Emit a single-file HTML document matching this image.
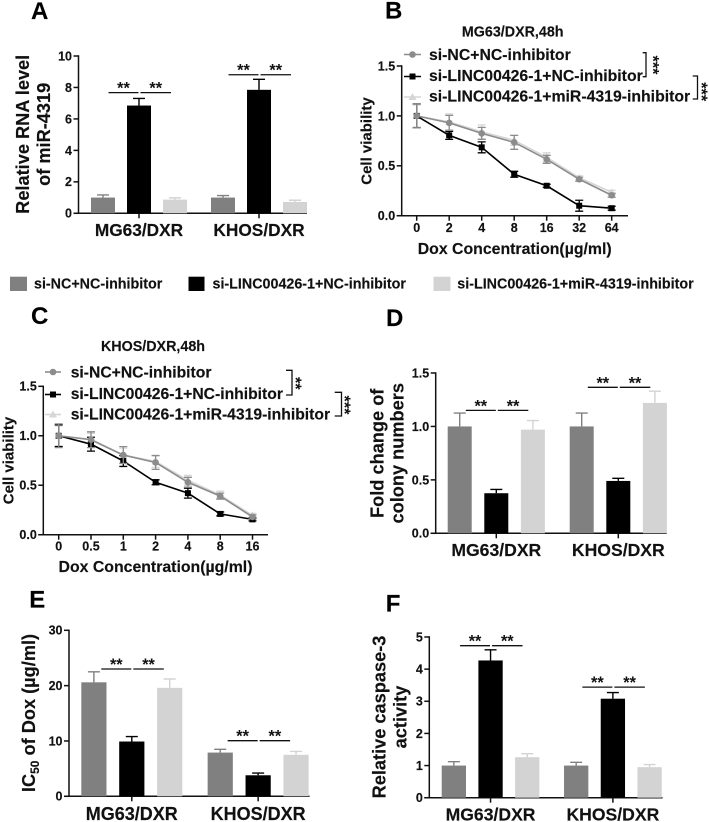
<!DOCTYPE html>
<html lang="en">
<head>
<meta charset="utf-8">
<title>Multi-panel chart</title>
<style>
html,body{margin:0;padding:0;background:#fff;}
svg{display:block;filter:blur(.3px);}
text{font-family:"Liberation Sans",sans-serif;font-weight:bold;fill:#111;stroke:#111;stroke-width:.15px;}
.letter{font-size:24px;fill:#000;}
.ytitle{font-size:18.2px;text-anchor:middle;}
.group-title{font-size:14.3px;text-anchor:middle;}
.xt{font-size:15.85px;text-anchor:middle;}
.ct{font-size:15px;text-anchor:middle;}
.ll{font-size:15.8px;}
.bl{font-size:14.3px;}
.star{font-size:16.3px;text-anchor:middle;stroke-width:0;}
.br{fill:none;stroke:#111;stroke-width:1.3;}
</style>
</head>
<body>
<svg id="chart" xmlns="http://www.w3.org/2000/svg" width="709" height="822" viewBox="0 0 709 822">
<rect width="709" height="822" fill="#fff"/>

<g id="panel-a">
<text class="letter" x="31" y="19">A</text>
<text class="ytitle" transform="translate(29,134.3) rotate(-90)">Relative RNA level</text>
<text class="ytitle" transform="translate(50,134.3) rotate(-90)">of miR-4319</text>
</g>

<g id="panel-b">
<text class="letter" x="385" y="18.5">B</text>
<text class="group-title" x="512.7" y="36.7">MG63/DXR,48h</text>
<text class="ct" transform="translate(371.7,141) rotate(-90)">Cell viability</text>
<text class="xt" x="514.7" y="254">Dox Concentration(µg/ml)</text>
<g>
<line x1="404" x2="421" y1="54.5" y2="54.5" stroke="#8c8c8c" stroke-width="1.6"/>
<circle cx="412.5" cy="54.5" r="3.3" fill="#8c8c8c"/>
<text class="ll" x="429" y="60">si-NC+NC-inhibitor</text>
<line x1="404" x2="421" y1="76.5" y2="76.5" stroke="#000" stroke-width="1.6"/>
<rect x="409.5" y="73.5" width="6" height="6" fill="#000"/>
<text class="ll" x="429" y="81">si-LINC00426-1+NC-inhibitor</text>
<line x1="404" x2="421" y1="97" y2="97" stroke="#d6d6d6" stroke-width="1.6"/>
<polygon points="412.5,93 416.5,100 408.5,100" fill="#d6d6d6"/>
<text class="ll" x="429" y="101.7">si-LINC00426-1+miR-4319-inhibitor</text>
</g>
<path class="br" d="M642.7 52.7H646V76.7H642.7"/>
<text class="star" transform="translate(647.6,65) rotate(90)">***</text>
<path class="br" d="M692.7 76H697.5V99H692.7"/>
<text class="star" transform="translate(696,91.7) rotate(90)">***</text>
</g>

<g id="shared-legend">
<rect x="10" y="276.7" width="17" height="14.3" fill="#808080"/>
<text class="bl" x="34" y="288.5">si-NC+NC-inhibitor</text>
<rect x="188.5" y="276.7" width="16" height="14.3" fill="#000"/>
<text class="bl" x="212.5" y="288.5">si-LINC00426-1+NC-inhibitor</text>
<rect x="433.5" y="276.7" width="17" height="14.3" fill="#d3d3d3"/>
<text class="bl" x="457.3" y="288.5">si-LINC00426-1+miR-4319-inhibitor</text>
</g>

<g id="panel-c">
<text class="letter" x="31" y="324">C</text>
<text class="group-title" x="153" y="351">KHOS/DXR,48h</text>
<text class="ct" transform="translate(13.5,460.5) rotate(-90)">Cell viability</text>
<text class="xt" x="155.5" y="572">Dox Concentration(µg/ml)</text>
<g>
<line x1="45" x2="61" y1="372" y2="372" stroke="#8c8c8c" stroke-width="1.6"/>
<circle cx="53" cy="372" r="3.3" fill="#8c8c8c"/>
<text class="ll" style="font-size:15.7px" x="70.7" y="377.3">si-NC+NC-inhibitor</text>
<line x1="45" x2="61" y1="394.5" y2="394.5" stroke="#000" stroke-width="1.6"/>
<rect x="50" y="391.5" width="6" height="6" fill="#000"/>
<text class="ll" style="font-size:15.7px" x="70.7" y="399">si-LINC00426-1+NC-inhibitor</text>
<line x1="45" x2="61" y1="414.5" y2="414.5" stroke="#d6d6d6" stroke-width="1.6"/>
<polygon points="53,410.5 57,417.5 49,417.5" fill="#d6d6d6"/>
<text class="ll" style="font-size:15.7px" x="70.7" y="419.3">si-LINC00426-1+miR-4319-inhibitor</text>
</g>
<path class="br" d="M286 370.3H292V395H286"/>
<text class="star" transform="translate(290.2,383.3) rotate(90)">**</text>
<path class="br" d="M334.7 392.3H341.5V416H334.7"/>
<text class="star" transform="translate(339,405) rotate(90)">***</text>
</g>

<g id="panel-d">
<text class="letter" x="386" y="326">D</text>
<text class="ytitle" transform="translate(383.3,453.3) rotate(-90)">Fold change of</text>
<text class="ytitle" transform="translate(403.3,453.3) rotate(-90)">colony numbers</text>
</g>

<g id="panel-e">
<text class="letter" x="29.3" y="607.3">E</text>
<text class="ytitle" transform="translate(35,713) rotate(-90)">IC<tspan font-size="12" dy="4">50</tspan><tspan dy="-4"> of Dox (µg/ml)</tspan></text>
</g>

<g id="panel-f">
<text class="letter" x="385.7" y="611.3">F</text>
<text class="ytitle" transform="translate(385.7,717) rotate(-90)">Relative caspase-3</text>
<text class="ytitle" transform="translate(406.7,717) rotate(-90)">activity</text>
</g>
</svg>

<script>
// ---------- shared categories ----------
const cellLines = ['MG63/DXR', 'KHOS/DXR'];
const treatments = ['nc', 'linc', 'mir'];
const barColors = ['#808080', '#000000', '#d3d3d3'];

// ---------- panel A ----------
const aTicks = ['0', '2', '4', '6', '8', '10'];
const aValues = [1.0, 6.85, 0.87, 1.0, 7.85, 0.72];
const aErrTops = [1.17, 7.3, 0.98, 1.13, 8.52, 0.83];
const aSig = [7.67, 8.81];

// ---------- panel B ----------
const bDoses = ['0', '2', '4', '8', '16', '32', '64'];
const bTicks = ['0.0', '0.5', '1.0', '1.5'];
const bNc = [1, 0.93, 0.825, 0.735, 0.565, 0.365, 0.205];
const bNcErr = [0.12, 0.075, 0.06, 0.07, 0.04, 0.02, 0.02];
const bLinc = [1, 0.805, 0.685, 0.415, 0.3, 0.1, 0.075];
const bLincErr = [0.12, 0.04, 0.055, 0.03, 0.015, 0.055, 0.02];
const bMir = [1, 0.94, 0.84, 0.755, 0.585, 0.38, 0.235];
const bMirErr = [0.11, 0.08, 0.07, 0.05, 0.045, 0.02, 0.02];

// ---------- panel C ----------
const cDoses = ['0', '0.5', '1', '2', '4', '8', '16'];
const cTicks = ['0.0', '0.5', '1.0', '1.5'];
const cNc = [1, 0.96, 0.805, 0.73, 0.53, 0.39, 0.18];
const cNcErr = [0.12, 0.08, 0.085, 0.07, 0.05, 0.03, 0.02];
const cLinc = [1, 0.915, 0.745, 0.53, 0.42, 0.21, 0.155];
const cLincErr = [0.11, 0.07, 0.055, 0.025, 0.05, 0.02, 0.015];
const cMir = [1, 0.965, 0.805, 0.74, 0.55, 0.4, 0.195];
const cMirErr = [0.1, 0.06, 0.07, 0.06, 0.05, 0.04, 0.02];

// ---------- panel D ----------
const dTicks = ['0.0', '0.5', '1.0', '1.5'];
const dValues = [1.0, 0.375, 0.97, 1.0, 0.49, 1.22];
const dErrTops = [1.125, 0.41, 1.055, 1.125, 0.515, 1.33];
const dSig = [1.15, 1.366];

// ---------- panel E ----------
const eTicks = ['0', '10', '20', '30'];
const eValues = [20.6, 9.9, 19.6, 7.9, 3.8, 7.5];
const eErrTops = [22.5, 10.8, 21.2, 8.5, 4.2, 8.1];
const eSig = [23.0, 10.05];

// ---------- panel F ----------
const fTicks = ['0', '1', '2', '3', '4', '5'];
const fValues = [1.0, 4.27, 1.26, 1.0, 3.08, 0.95];
const fErrTops = [1.12, 4.6, 1.37, 1.1, 3.27, 1.03];
const fSig = [4.73, 3.44];

const NS = 'http://www.w3.org/2000/svg';

function mk(parent, tag, attrs) {
  const el = document.createElementNS(NS, tag);
  for (const k in attrs) el.setAttribute(k, attrs[k]);
  parent.appendChild(el);
  return el;
}

function drawYAxis(g, a, ticks) {
  const max = parseFloat(ticks[ticks.length - 1]);
  const y = v => a.yBot + (a.yTop - a.yBot) * v / max;
  const yLine = mk(g, 'line', {x1: a.x0, x2: a.x0, y1: a.yTop - 0.7, y2: a.yBot + 0.7, stroke: '#111', 'stroke-width': 1.5});
  
  
  const xLine = mk(g, 'line', {x1: a.x0 - 5, x2: a.xEnd, y1: a.yBot, y2: a.yBot, stroke: '#111', 'stroke-width': 1.5});
  
  
  ticks.forEach(function (label) {
    const v = parseFloat(label);
    const tick = mk(g, 'line', {x1: a.x0 - 5, x2: a.x0, y1: y(v), y2: y(v), stroke: '#111', 'stroke-width': 1.5});
    
    
    const t = mk(g, 'text', {x: a.x0 - 6.5, y: y(v) + 4.4, 'text-anchor': 'end', 'font-size': 12.5});
    t.textContent = label;
    
    
  });
  return y;
}

function drawBars(id, a, ticks, values, tops, sig) {
  const g = document.getElementById(id);
  const y = drawYAxis(g, a, ticks);
  const gapExtra = a.step / 3;
  const left = (grp, i) => a.start + (grp * 3 + i) * a.step + grp * gapExtra;
  cellLines.forEach(function (name, grp) {
    treatments.forEach(function (tr, i) {
      const idx = grp * 3 + i;
      const x = left(grp, i);
      const cx = x + a.w / 2;
      const err = mk(g, 'path', {
        d: 'M' + cx + ' ' + y(values[idx]) + 'V' + y(tops[idx]) + 'M' + (cx - 6) + ' ' + y(tops[idx]) + 'H' + (cx + 6),
        fill: 'none', stroke: barColors[i], 'stroke-width': 1.4
      });
      
      
      const bar = mk(g, 'rect', {x: x, y: y(values[idx]), width: a.w, height: a.yBot - y(values[idx]), fill: barColors[i]});
      
      
    });
    const gc = left(grp, 1) + a.w / 2;
    const tk = mk(g, 'line', {x1: gc, x2: gc, y1: a.yBot, y2: a.yBot + 5, stroke: '#111', 'stroke-width': 1.5});
    
    
    const lb = mk(g, 'text', {x: gc, y: a.labelY, 'text-anchor': 'middle', 'font-size': a.labelSize});
    lb.textContent = name;
    
    
    [[gc - 30.5, gc - 0.5], [gc + 1.5, gc + 32]].forEach(function (seg) {
      const sy = y(sig[grp]);
      const ln = mk(g, 'line', {x1: seg[0], x2: seg[1], y1: sy, y2: sy, stroke: '#111', 'stroke-width': 1.3});
      
      
      const st = mk(g, 'text', {x: (seg[0] + seg[1]) / 2, y: sy + 1, 'class': 'star'});
      st.textContent = '**';
      
      
    });
  });
}

function drawSeries(g, a, y, values, errs, color, shape, name) {
  const x = i => a.first + i * a.step;
  const pts = values.map((v, i) => x(i) + ',' + y(v)).join(' ');
  const line = mk(g, 'polyline', {points: pts, fill: 'none', stroke: color, 'stroke-width': 1.6});
  
  
  values.forEach(function (v, i) {
    const cx = x(i);
    const hi = y(v + errs[i]);
    const lo = y(v - errs[i]);
    const err = mk(g, 'path', {
      d: 'M' + cx + ' ' + hi + 'V' + lo + 'M' + (cx - 4) + ' ' + hi + 'H' + (cx + 4) + 'M' + (cx - 4) + ' ' + lo + 'H' + (cx + 4),
      fill: 'none', stroke: color, 'stroke-width': 1.3
    });
    
    
    let m;
    if (shape === 'circle') {
      m = mk(g, 'circle', {cx: cx, cy: y(v), r: 3.3, fill: color});
    } else if (shape === 'square') {
      m = mk(g, 'rect', {x: cx - 3, y: y(v) - 3, width: 6, height: 6, fill: color});
    } else {
      m = mk(g, 'polygon', {points: cx + ',' + (y(v) - 4) + ' ' + (cx + 4) + ',' + (y(v) + 3) + ' ' + (cx - 4) + ',' + (y(v) + 3), fill: color});
    }
    
    
  });
}

function drawLines(id, a, ticks, doses, nc, ncErr, linc, lincErr, mir, mirErr) {
  const g = document.getElementById(id);
  const y = drawYAxis(g, a, ticks);
  doses.forEach(function (d, i) {
    const cx = a.first + i * a.step;
    const tk = mk(g, 'line', {x1: cx, x2: cx, y1: a.yBot, y2: a.yBot + 5, stroke: '#111', 'stroke-width': 1.5});
    
    
    const lb = mk(g, 'text', {x: cx, y: a.labelY, 'text-anchor': 'middle', 'font-size': 12.5});
    lb.textContent = d;
    
    
  });
  drawSeries(g, a, y, mir, mirErr, '#d6d6d6', 'triangle', 'mir');
  drawSeries(g, a, y, linc, lincErr, '#000000', 'square', 'linc');
  drawSeries(g, a, y, nc, ncErr, '#8c8c8c', 'circle', 'nc');
}

drawBars('panel-a', {x0: 78.5, xEnd: 307, yTop: 56, yBot: 213.3, start: 91, w: 24, step: 36, labelY: 236, labelSize: 17.3}, aTicks, aValues, aErrTops, aSig);
drawLines('panel-b', {x0: 401.7, xEnd: 628, yTop: 66, yBot: 215.7, first: 416.7, step: 32.5, labelY: 232}, bTicks, bDoses, bNc, bNcErr, bLinc, bLincErr, bMir, bMirErr);
drawLines('panel-c', {x0: 43.3, xEnd: 268, yTop: 386.3, yBot: 534.7, first: 58.7, step: 32.3, labelY: 550.7}, cTicks, cDoses, cNc, cNcErr, cLinc, cLincErr, cMir, cMirErr);
drawBars('panel-d', {x0: 435.7, xEnd: 666.7, yTop: 373, yBot: 533.3, start: 447.7, w: 24, step: 36.6, labelY: 556, labelSize: 17.6}, dTicks, dValues, dErrTops, dSig);
drawBars('panel-e', {x0: 69, xEnd: 309.5, yTop: 630.3, yBot: 796.3, start: 81.3, w: 25.2, step: 37.9, labelY: 820, labelSize: 18}, eTicks, eValues, eErrTops, eSig);
drawBars('panel-f', {x0: 429.3, xEnd: 662.5, yTop: 637, yBot: 797.7, start: 441.7, w: 24.3, step: 36.7, labelY: 820.7, labelSize: 17.6}, fTicks, fValues, fErrTops, fSig);
</script>
</body>
</html>
